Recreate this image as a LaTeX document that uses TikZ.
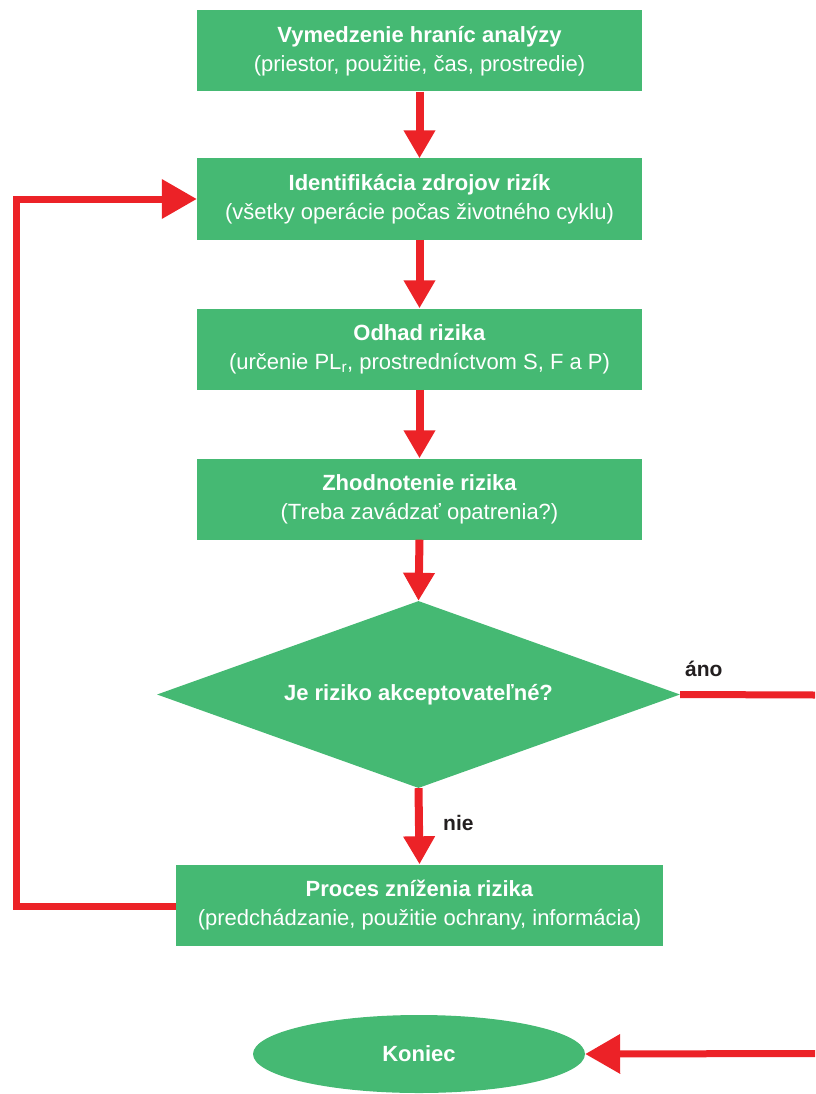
\documentclass[tikz,border=0pt]{standalone}
\usepackage{fontspec}
\setmainfont{Liberation Sans}
\usetikzlibrary{arrows.meta,shapes.geometric}
\definecolor{boxgreen}{RGB}{69,185,115}
\definecolor{arrred}{RGB}{236,34,39}
\definecolor{labelgray}{RGB}{35,31,32}
\begin{document}
\begin{tikzpicture}[x=1pt,y=-1pt,
  procbox/.style={fill=boxgreen, minimum width=445pt, minimum height=81pt, text=white, align=center,
    font=\fontsize{22}{29}\selectfont, inner sep=0pt},
  decbox/.style={diamond, fill=boxgreen, minimum width=523pt, minimum height=187pt, aspect=2.8, inner sep=0pt,
    text=white, font=\bfseries\fontsize{22}{29}\selectfont},
  endbox/.style={ellipse, fill=boxgreen, minimum width=332pt, minimum height=78pt, inner sep=0pt,
    text=white, font=\bfseries\fontsize{22}{29}\selectfont},
  vflow/.style={draw=arrred, line width=8pt, -{Triangle[width=30pt,length=28pt]}},
  hflow/.style={draw=arrred, line width=7pt, -{Triangle[width=38pt,length=35pt]}},
  plainflow/.style={draw=arrred, line width=7pt},
  lbl/.style={text=labelgray, font=\bfseries\fontsize{21}{25}\selectfont, inner sep=0pt}
]
\useasboundingbox (0,0) rectangle (815,1094);

\node[procbox] (b1) at (419.5,51) {\textbf{Vymedzenie hraníc analýzy}\\(priestor, použitie, čas, prostredie)};
\node[procbox] (b2) at (419.5,199) {\textbf{Identifikácia zdrojov rizík}\\(všetky operácie počas životného cyklu)};
\node[procbox] (b3) at (419.5,349) {\textbf{Odhad rizika}\\(určenie PL\textsubscript{r}, prostredníctvom S, F a P)};
\node[procbox] (b4) at (419.5,499) {\textbf{Zhodnotenie rizika}\\(Treba zavádzať opatrenia?)};
\node[decbox] (d) at (418.5,694.5) {Je riziko akceptovateľné?};
\node[procbox, minimum width=487pt] (b5) at (419.5,905) {\textbf{Proces zníženia rizika}\\(predchádzanie, použitie ochrany, informácia)};
\node[endbox] (end) at (419,1054) {Koniec};

\coordinate (loopbl) at (16.5,906);
\coordinate (looptl) at (16.5,199);
\coordinate (exitR) at (815,695);
\coordinate (backR) at (815,1053.5);

\draw[vflow] (b1.south) -- (b2.north);
\draw[vflow] (b2.south) -- (b3.north);
\draw[vflow] (b3.south) -- (b4.north);
\draw[vflow] (b4.south) -- (d.north);
\draw[vflow] (d.south) -- (b5.north);

\draw[hflow] (b5.west |- loopbl) -- (loopbl) -- (looptl) -- (b2.west);
\draw[plainflow] (d.east) -- (exitR);
\draw[hflow] (backR) -- (end.east);

\node[lbl, anchor=base west] (ano) at (685,676) {áno};
\node[lbl, anchor=base west] (nie) at (443,830) {nie};
\end{tikzpicture}
\end{document}
